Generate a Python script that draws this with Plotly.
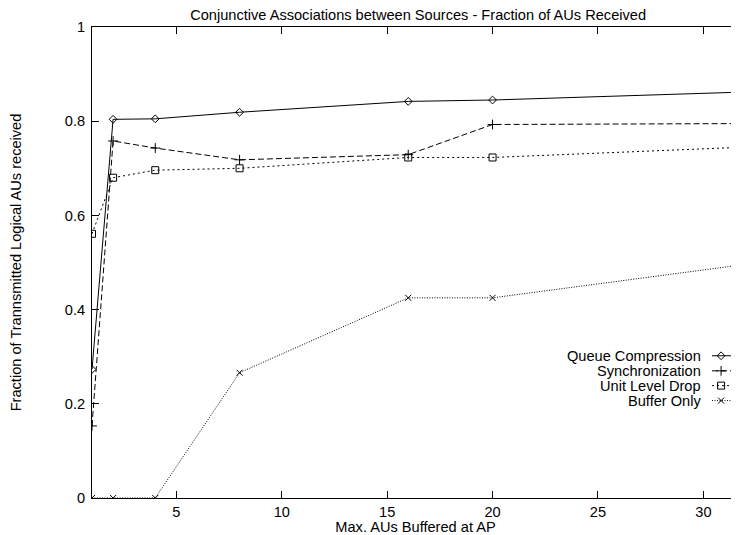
import plotly.graph_objects as go

# ---------------- data ----------------
x_vals = [1, 2, 4, 8, 16, 20, 32]
queue_compression = [0.273, 0.804, 0.805, 0.819, 0.842, 0.845, 0.862]
synchronization = [0.153, 0.758, 0.743, 0.718, 0.729, 0.793, 0.795]
unit_level_drop = [0.561, 0.680, 0.696, 0.700, 0.723, 0.723, 0.745]
buffer_only = [0.0, 0.0, 0.0, 0.266, 0.425, 0.425, 0.496]
series_names = ["Queue Compression", "Synchronization", "Unit Level Drop", "Buffer Only"]

# ---------------- style ----------------
series_vals = [queue_compression, synchronization, unit_level_drop, buffer_only]
dashes = ["solid", "6px,3px", "2px,3px", "1px,1.5px"]
symbols = ["diamond-open", "cross-thin-open", "square-open", "x-thin-open"]
sizes = [6, 7, 7, 6]

FONT = "Liberation Sans, Arial, Helvetica, sans-serif"
FS = 14.6

# gnuplot-style key (text right-aligned, sample to the right), in axis units
key_text_x = 29.98
key_line_x = [30.41, 32.5]
key_marker_x = 30.84
key_rows_y = [0.302, 0.270, 0.2386, 0.2068]

fig = go.Figure()
for name, vals, dash, sym, size in zip(series_names, series_vals, dashes, symbols, sizes):
    fig.add_trace(go.Scatter(
        x=x_vals, y=vals, name=name, mode="lines+markers", showlegend=False,
        line=dict(color="black", width=1, dash=dash),
        marker=dict(symbol=sym, size=size, color="black",
                    line=dict(color="black", width=1)),
    ))

# key samples
for name, dash, sym, size, ky in zip(series_names, dashes, symbols, sizes, key_rows_y):
    fig.add_trace(go.Scatter(
        x=key_line_x, y=[ky, ky], mode="lines", showlegend=False, hoverinfo="skip",
        line=dict(color="black", width=1, dash=dash),
    ))
    fig.add_trace(go.Scatter(
        x=[key_marker_x], y=[ky], mode="markers", showlegend=False, hoverinfo="skip",
        marker=dict(symbol=sym, size=size, color="black",
                    line=dict(color="black", width=1)),
    ))
    fig.add_annotation(
        x=key_text_x, y=ky, xref="x", yref="y", text=name, showarrow=False,
        xanchor="right", yanchor="middle", font=dict(size=FS, family=FONT, color="black"),
    )

fig.update_layout(
    width=731, height=527,
    margin=dict(l=84, r=0, t=18.5, b=37),
    paper_bgcolor="white", plot_bgcolor="white",
    font=dict(family=FONT, size=FS, color="black"),
    title=dict(text="Conjunctive Associations between Sources - Fraction of AUs Received",
               x=0.561, xanchor="center", y=0.9875, yanchor="middle",
               font=dict(size=FS)),
    showlegend=False,
)
fig.update_xaxes(
    range=[1, 31.69], tick0=0, dtick=5,
    showgrid=False, zeroline=False,
    showline=True, linecolor="black", linewidth=1, mirror="ticks",
    ticks="inside", ticklen=7, tickcolor="black",
    title=dict(text="Max. AUs Buffered at AP", standoff=0, font=dict(size=FS)),
)
fig.update_yaxes(
    range=[0, 1], tick0=0, dtick=0.2,
    showgrid=False, zeroline=False,
    showline=True, linecolor="black", linewidth=1, mirror=False,
    ticks="inside", ticklen=7, tickcolor="black", ticklabelstandoff=3,
    title=dict(text="Fraction of Trannsmitted Logical AUs received", standoff=42,
               font=dict(size=FS)),
)

fig.write_html("out.html")
